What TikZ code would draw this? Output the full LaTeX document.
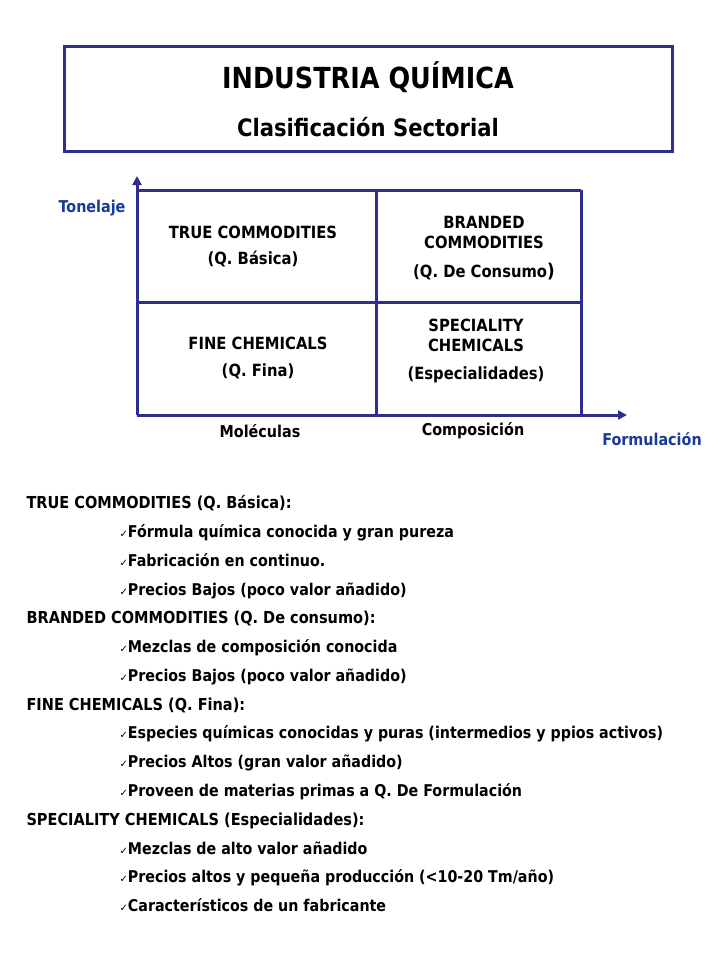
\documentclass[tikz,border=0pt]{standalone}
\usepackage{fontspec}
\setmainfont{DejaVu Sans}[FakeStretch=0.88]
\newfontfamily\symfont{DejaVu Sans}
\usetikzlibrary{arrows.meta}
\definecolor{frame}{RGB}{46,46,143}
\definecolor{lbl}{RGB}{26,58,153}
\tikzset{
  gridline/.style={draw=frame, line width=3pt},
  axis/.style={draw=frame, line width=3pt, -{Triangle[length=9pt,width=9pt]}},
  celltext/.style={font=\bfseries\fontsize{16.8}{20}\selectfont, align=center},
  axlbl/.style={font=\bfseries\fontsize{16.3}{18}\selectfont},
  head/.style={font=\bfseries\fontsize{16.5}{18}\selectfont, anchor=base west},
  item/.style={font=\bfseries\fontsize{16.2}{18}\selectfont, anchor=base west},
}
\newcommand{\ck}{{\symfont\fontsize{10}{10}\selectfont\char"2713}}
\begin{document}
\begin{tikzpicture}[x=1pt,y=-1pt]
\useasboundingbox (0,0) rectangle (720,960);
% title box
\draw[frame, line width=3pt] (64,47) rectangle (672,152);
\node[font=\bfseries\fontsize{29}{32}\selectfont] (t1) at (368,77) {INDUSTRIA QUÍMICA};
\node[font=\bfseries\fontsize{24}{28}\selectfont] (t2) at (368,127) {Clasificación Sectorial};
% grid
\coordinate (o) at (137,415);
\coordinate (ytip) at (137,176);
\coordinate (xtip) at (627,415);
\draw[gridline] (137,190) -- (581,190);
\draw[gridline] (137,302) -- (581,302);
\draw[gridline] (376,190) -- (376,415);
\draw[gridline] (581,190) -- (581,415);
\draw[axis] (o) -- (ytip);
\draw[axis] (o) -- (xtip);
% cells
\node[celltext] (c1) at (253,246) {TRUE COMMODITIES\\[6pt](Q. Básica)};
\node[celltext] (c2) at (484,248) {BRANDED\\COMMODITIES\\[9pt](Q. De Consumo{\fontsize{19}{20}\selectfont)}};
\node[celltext] (c3) at (258,358) {FINE CHEMICALS\\[7pt](Q. Fina)};
\node[celltext] (c4) at (476,351) {SPECIALITY\\CHEMICALS\\[8pt](Especialidades)};
% axis labels
\node[axlbl, text=lbl] (ylab) at (92,208) {Tonelaje};
\node[axlbl, text=lbl] (xlab) at (652,439) {Formulación};
\node[axlbl] (m1) at (260,431) {Moléculas};
\node[axlbl] (m2) at (473,431) {Composición};
% list
\node[head] (h1) at (23,508) {TRUE COMMODITIES (Q. Básica):};
\node[item] (i1) at (116,537) {\ck Fórmula química conocida y gran pureza};
\node[item] (i2) at (116,566) {\ck Fabricación en continuo.};
\node[item] (i3) at (116,595) {\ck Precios Bajos (poco valor añadido)};
\node[head] (h2) at (23,623) {BRANDED COMMODITIES (Q. De consumo):};
\node[item] (i4) at (116,652) {\ck Mezclas de composición conocida};
\node[item] (i5) at (116,681) {\ck Precios Bajos (poco valor añadido)};
\node[head] (h3) at (23,710) {FINE CHEMICALS (Q. Fina):};
\node[item] (i6) at (116,738) {\ck Especies químicas conocidas y puras (intermedios y ppios activos)};
\node[item] (i7) at (116,767) {\ck Precios Altos (gran valor añadido)};
\node[item] (i8) at (116,796) {\ck Proveen de materias primas a Q. De Formulación};
\node[head] (h4) at (23,825) {SPECIALITY CHEMICALS (Especialidades):};
\node[item] (i9) at (116,854) {\ck Mezclas de alto valor añadido};
\node[item] (i10) at (116,882) {\ck Precios altos y pequeña producción (<10-20 Tm/año)};
\node[item] (i11) at (116,911) {\ck Característicos de un fabricante};
\end{tikzpicture}
\end{document}
